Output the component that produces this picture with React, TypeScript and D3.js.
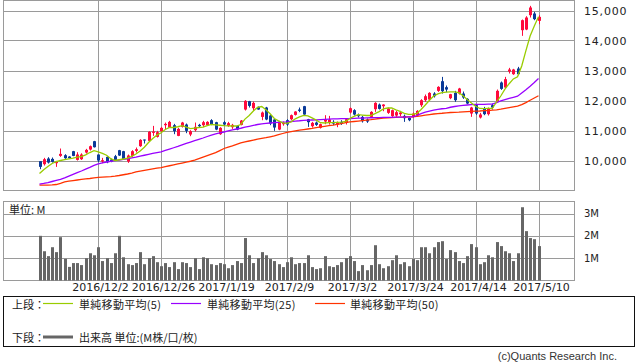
import React, { useRef, useEffect } from "react";
import * as d3 from "d3";

// daily candles, 2016/11/14 .. 2017/5/10 (120 sessions)
const opens = [
  9977, 9877, 10066, 10054, 9910, 10154, 10176, 10132, 10310, 10021,
  10043, 10265, 10365, 10643, 10199, 9968, 10121, 10032, 10143, 10343,
  10310, 9966, 10154, 10321, 10477, 10699, 10654, 10921, 10788, 10977,
  11177, 11099, 11177, 10821, 11121, 11199, 10866, 11010, 11188, 11177,
  11177, 11343, 11276, 10877, 11276, 11154, 11110, 11154, 11188, 11699,
  11977, 11743, 11788, 11454, 11766, 11499, 11366, 11032, 11210, 11343,
  11376, 11521, 11699, 11810, 11377, 11143, 11265, 11088, 11299, 11254,
  11288, 11199, 11288, 11254, 11599, 11677, 11521, 11454, 11366, 11454,
  11710, 11865, 11810, 11588, 11477, 11499, 11543, 11488, 11421, 11454,
  11499, 11843, 12010, 12032, 12232, 12321, 12643, 12443, 12077, 12254,
  12232, 12232, 12055, 11566, 11844, 11433, 11733, 11544, 11844, 11955,
  12600, 12433, 12966, 12877, 13066, 14344, 14366, 14844, 14900, 14655,
];
const highs = [
  9977, 10088, 10110, 10100, 9988, 10399, 10210, 10143, 10320, 10277,
  10240, 10388, 10499, 10654, 10199, 10088, 10132, 10054, 10187, 10354,
  10321, 10199, 10343, 10432, 10710, 10699, 10977, 11154, 10988, 11121,
  11265, 11321, 11221, 11088, 11288, 11232, 11010, 11265, 11221, 11321,
  11310, 11377, 11290, 11110, 11321, 11288, 11221, 11170, 11350, 12010,
  11988, 11966, 11800, 11632, 11788, 11532, 11377, 11321, 11299, 11377,
  11532, 11643, 11766, 11821, 11388, 11288, 11299, 11232, 11510, 11487,
  11343, 11299, 11343, 11399, 11765, 11710, 11565, 11488, 11399, 11643,
  11943, 11899, 11876, 11765, 11699, 11654, 11654, 11532, 11432, 11599,
  11677, 12043, 12199, 12277, 12277, 12476, 12787, 12499, 12221, 12321,
  12421, 12299, 12077, 11788, 11877, 11588, 11788, 11766, 11899, 12366,
  12633, 12788, 13088, 13055, 13121, 14699, 14810, 15155, 14955, 14844,
];
const lows = [
  9710, 9832, 9899, 9930, 9788, 10121, 10054, 10066, 10143, 9999,
  10020, 10232, 10332, 10432, 9943, 9910, 9910, 9943, 9988, 10154,
  10043, 9921, 10121, 10266, 10455, 10566, 10643, 10821, 10766, 10955,
  11043, 11088, 10877, 10810, 11099, 10910, 10810, 10966, 11099, 11110,
  11160, 11177, 11010, 10855, 11154, 11121, 11054, 11010, 11170, 11666,
  11766, 11654, 11690, 11343, 11343, 11177, 10988, 11010, 11160, 11154,
  11343, 11499, 11610, 11521, 11121, 11099, 11154, 11066, 11210, 11199,
  11177, 11110, 11188, 11199, 11565, 11499, 11432, 11265, 11254, 11421,
  11621, 11699, 11643, 11554, 11454, 11454, 11477, 11288, 11310, 11421,
  11477, 11787, 11954, 12010, 12099, 12288, 12232, 12277, 12043, 11954,
  12199, 12055, 11877, 11455, 11521, 11400, 11510, 11499, 11699, 11921,
  12355, 12410, 12900, 12855, 12844, 14155, 14344, 14766, 14677, 14544,
];
const closes = [
  9788, 10043, 9932, 9954, 9954, 10221, 10077, 10077, 10154, 10199,
  10199, 10354, 10476, 10443, 9999, 10010, 9943, 9966, 10021, 10166,
  10054, 10166, 10310, 10376, 10688, 10666, 10955, 10966, 10943, 11088,
  11221, 11287, 10977, 11054, 11265, 10988, 10977, 11121, 11143, 11276,
  11287, 11210, 11032, 11088, 11199, 11243, 11188, 11032, 11332, 11988,
  11821, 11921, 11700, 11599, 11366, 11232, 11099, 11299, 11254, 11199,
  11510, 11632, 11654, 11532, 11277, 11254, 11188, 11210, 11366, 11366,
  11232, 11254, 11221, 11377, 11743, 11532, 11477, 11310, 11299, 11621,
  11921, 11721, 11865, 11732, 11677, 11610, 11599, 11410, 11343, 11565,
  11654, 12010, 12143, 12254, 12143, 12454, 12310, 12365, 12210, 12010,
  12399, 12099, 11899, 11766, 11566, 11533, 11544, 11733, 11766, 12322,
  12388, 12711, 13033, 13033, 12877, 14677, 14766, 15100, 14711, 14788,
];
// volume, millions
const volumes = [
  2.0, 1.31, 1.09, 1.49, 1.27, 1.94, 0.97, 0.61, 0.78, 0.78,
  0.69, 1.0, 1.22, 1.13, 1.49, 0.87, 1.0, 0.78, 1.22, 2.0,
  1.04, 0.73, 0.69, 0.78, 1.27, 0.73, 1.0, 1.09, 0.82, 0.64,
  0.78, 0.6, 0.82, 0.51, 0.82, 0.78, 0.6, 1.0, 0.51, 1.04,
  1.0, 0.73, 0.69, 0.78, 0.73, 0.55, 0.69, 0.87, 0.78, 1.9,
  1.13, 0.78, 1.0, 1.27, 1.13, 0.96, 0.87, 0.73, 0.6, 0.82,
  1.04, 0.73, 0.78, 0.78, 1.13, 0.6, 0.51, 0.55, 1.09, 0.64,
  0.6, 0.69, 0.82, 1.0, 1.09, 0.87, 0.42, 0.69, 0.46, 0.69,
  1.58, 0.73, 0.55, 0.64, 0.91, 1.13, 0.73, 0.82, 0.64, 0.96,
  0.91, 1.49, 1.49, 1.22, 1.49, 1.72, 1.76, 0.96, 1.36, 1.27,
  0.87, 0.78, 1.09, 1.63, 1.49, 0.73, 0.82, 1.13, 1.04, 1.72,
  1.54, 1.31, 1.22, 0.87, 1.22, 3.28, 2.21, 1.9, 1.85, 1.54,
];
const ma5 = [
  9566, 9690, 9800, 9900, 9960, 10000, 10030, 10055, 10080, 10110,
  10130, 10190, 10265, 10330, 10290, 10240, 10175, 10060, 10000, 10025,
  10050, 10080, 10140, 10215, 10320, 10440, 10600, 10730, 10845, 10925,
  11035, 11100, 11100, 11125, 11160, 11110, 11060, 11080, 11100, 11110,
  11160, 11200, 11190, 11175, 11160, 11155, 11150, 11150, 11200, 11380,
  11500, 11650, 11770, 11800, 11690, 11560, 11400, 11320, 11255, 11240,
  11290, 11390, 11455, 11505, 11490, 11420, 11345, 11260, 11250, 11260,
  11260, 11270, 11280, 11300, 11400, 11470, 11530, 11515, 11500, 11500,
  11560, 11630, 11720, 11750, 11750, 11690, 11640, 11570, 11535, 11540,
  11570, 11700, 11850, 12010, 12150, 12220, 12260, 12280, 12290, 12285,
  12260, 12160, 12030, 11920, 11810, 11735, 11730, 11740, 11740, 11950,
  12150, 12380, 12560, 12720, 12790, 13150, 13660, 14150, 14480, 14790,
];
const ma25 = [
  9210, 9235, 9265, 9300, 9335, 9370, 9420, 9480, 9540, 9595,
  9650, 9710, 9770, 9840, 9890, 9920, 9950, 9975, 9995, 10015,
  10035, 10055, 10085, 10110, 10145, 10175, 10205, 10235, 10265, 10290,
  10335, 10380, 10425, 10470, 10520, 10570, 10615, 10660, 10705, 10750,
  10800, 10845, 10885, 10920, 10950, 10985, 11020, 11050, 11075, 11110,
  11140, 11170, 11200, 11220, 11235, 11250, 11260, 11270, 11280, 11288,
  11300, 11315, 11325, 11340, 11345, 11350, 11355, 11362, 11370, 11378,
  11385, 11390, 11395, 11399, 11400, 11405, 11410, 11415, 11420, 11425,
  11430, 11432, 11435, 11438, 11440, 11443, 11446, 11449, 11452, 11455,
  11500, 11560, 11610, 11645, 11680, 11705, 11725, 11740, 11775, 11800,
  11820, 11835, 11850, 11865, 11870, 11872, 11874, 11876, 11878, 11930,
  11988, 12030, 12070, 12105, 12143, 12250, 12360, 12477, 12600, 12732,
];
const ma50 = [
  9177, 9178, 9180, 9185, 9200, 9240, 9290, 9310, 9330, 9350,
  9370, 9385, 9400, 9420, 9435, 9445, 9455, 9465, 9480, 9500,
  9525, 9550, 9580, 9620, 9645, 9670, 9695, 9720, 9745, 9766,
  9795, 9825, 9855, 9885, 9915, 9945, 9975, 10010, 10060, 10110,
  10160, 10210, 10260, 10330, 10400, 10445, 10490, 10540, 10588, 10621,
  10650, 10680, 10710, 10735, 10760, 10790, 10820, 10860, 10900, 10940,
  10965, 10990, 11010, 11030, 11050, 11070, 11095, 11120, 11140, 11160,
  11180, 11205, 11230, 11260, 11288, 11300, 11315, 11330, 11345, 11360,
  11380, 11400, 11410, 11420, 11430, 11437, 11443, 11448, 11452, 11456,
  11470, 11490, 11510, 11530, 11550, 11565, 11575, 11590, 11600, 11605,
  11610, 11620, 11630, 11640, 11645, 11650, 11660, 11665, 11677, 11690,
  11710, 11735, 11760, 11785, 11810, 11860, 11930, 12010, 12085, 12160,
];

const dateLabels = ["2016/12/2", "2016/12/26", "2017/1/19", "2017/2/9", "2017/3/2", "2017/3/24", "2017/4/14", "2017/5/10"];
const dateIndex = [14, 29, 44, 59, 74, 89, 104, 119];
const priceTicks = [10000, 11000, 12000, 13000, 14000, 15000];
const volumeTicks = [1, 2, 3];

const W = 638;
const H = 362;
const UP = "#ff0a3c";
const DOWN = "#0a3a98";
const GRID = "#9a9a9a";
const NUM_FONT = "'DejaVu Sans', 'Noto Sans CJK JP', sans-serif";
const JP_FONT = "'Noto Sans CJK JP', 'DejaVu Sans', sans-serif";

const App = () => {
  const svgRef = useRef<SVGSVGElement>(null);

  useEffect(() => {
    const svg = d3.select(svgRef.current);
    svg.selectAll("*").remove();

    const left = 3.5, right = 574.5;
    const top = 0.5, bottom = 190.5;
    const vTop = 201.5, vBottom = 280.5;

    const x = d3.scaleLinear().domain([0, closes.length - 1]).range([39.5, 538.5]);
    const y = d3.scaleLinear().domain([10000, 15000]).range([160.5, 10.5]);
    const yv = d3.scaleLinear().domain([0, 3]).range([280.5, 213.5]);
    const px = (i: number) => Math.round(x(i));

    svg.append("rect").attr("width", W).attr("height", H).attr("fill", "#fff");

    // panes grid
    const grid = svg.append("g").attr("stroke", GRID).attr("stroke-width", 1).attr("fill", "none");
    grid.selectAll("line.h")
      .data(priceTicks)
      .join("line")
      .attr("x1", left).attr("x2", right)
      .attr("y1", d => Math.round(y(d)) + 0.5)
      .attr("y2", d => Math.round(y(d)) + 0.5);
    grid.append("g").selectAll("line")
      .data(volumeTicks)
      .join("line")
      .attr("x1", left).attr("x2", right)
      .attr("y1", d => Math.round(yv(d)) + 0.5)
      .attr("y2", d => Math.round(yv(d)) + 0.5);
    grid.append("g").selectAll("line")
      .data(dateIndex)
      .join("line")
      .attr("x1", d => px(d) + 0.5).attr("x2", d => px(d) + 0.5)
      .attr("y1", top).attr("y2", bottom);
    grid.append("g").selectAll("line")
      .data(dateIndex)
      .join("line")
      .attr("x1", d => px(d) + 0.5).attr("x2", d => px(d) + 0.5)
      .attr("y1", vTop).attr("y2", vBottom);
    grid.append("rect").attr("x", left).attr("y", top).attr("width", right - left).attr("height", bottom - top);
    grid.append("rect").attr("x", left).attr("y", vTop).attr("width", right - left).attr("height", vBottom - vTop);

    // candles
    const idx = d3.range(closes.length);
    const candles = svg.append("g");
    candles.selectAll("line")
      .data(idx)
      .join("line")
      .attr("x1", i => px(i) + 0.5).attr("x2", i => px(i) + 0.5)
      .attr("y1", i => y(highs[i])).attr("y2", i => y(lows[i]))
      .attr("stroke", i => closes[i] >= opens[i] ? UP : DOWN)
      .attr("stroke-width", 1);
    candles.selectAll("rect")
      .data(idx)
      .join("rect")
      .attr("x", i => px(i) - 1)
      .attr("width", 3)
      .attr("y", i => y(Math.max(opens[i], closes[i])))
      .attr("height", i => Math.max(1, Math.abs(y(opens[i]) - y(closes[i]))))
      .attr("fill", i => closes[i] >= opens[i] ? UP : DOWN);

    // moving averages
    const line = d3.line<number>().x((d, i) => x(i)).y(d => y(d));
    [[ma50, "#ff3300"], [ma25, "#9900ff"], [ma5, "#99cc00"]].forEach(([vals, color]) => {
      svg.append("path")
        .attr("d", line(vals as number[]))
        .attr("fill", "none")
        .attr("stroke", color as string)
        .attr("stroke-width", 1.3);
    });

    // volume
    svg.append("g").selectAll("rect")
      .data(idx)
      .join("rect")
      .attr("x", i => px(i) - 1)
      .attr("width", 3)
      .attr("y", i => yv(volumes[i]))
      .attr("height", i => yv(0) - yv(volumes[i]))
      .attr("fill", "#666");

    // axis labels
    svg.append("g").selectAll("text")
      .data(priceTicks)
      .join("text")
      .attr("x", 584).attr("y", d => y(d) + 0.5)
      .attr("dominant-baseline", "central")
      .attr("font-family", NUM_FONT).attr("font-size", 11)
      .attr("letter-spacing", 0.8)
      .attr("fill", "#222")
      .text(d => d3.format(",")(d));
    svg.append("g").selectAll("text")
      .data(volumeTicks)
      .join("text")
      .attr("x", 584).attr("y", d => yv(d))
      .attr("dominant-baseline", "central")
      .attr("font-family", NUM_FONT).attr("font-size", 10)
      .attr("fill", "#222")
      .text(d => `${d}M`);
    svg.append("g").selectAll("text")
      .data(dateIndex)
      .join("text")
      .attr("x", (d, i) => px(d) + 2.5).attr("y", 287)
      .attr("text-anchor", "middle")
      .attr("dominant-baseline", "central")
      .attr("font-family", NUM_FONT).attr("font-size", 11)
      .attr("fill", "#222")
      .text((d, i) => dateLabels[i]);
    svg.append("text")
      .attr("x", 9).attr("y", 209)
      .attr("dominant-baseline", "central")
      .attr("font-family", JP_FONT).attr("font-size", 11)
      .attr("fill", "#222")
      .text("単位: M");

    // legend
    const lg = svg.append("g").attr("font-family", JP_FONT).attr("font-size", 11).attr("fill", "#222");
    lg.append("rect").attr("x", 3.5).attr("y", 296.5).attr("width", 631).attr("height", 50)
      .attr("fill", "none").attr("stroke", "#111").attr("stroke-width", 1);
    const row1 = 303.5, row2 = 337;
    lg.append("text").attr("x", 12).attr("y", row1).attr("dominant-baseline", "central").text("上段：");
    lg.append("text").attr("x", 12).attr("y", row2).attr("dominant-baseline", "central").text("下段：");
    const items: [number, number, string, string][] = [
      [43, 79, "#99cc00", "単純移動平均(5)"],
      [171, 207, "#9900ff", "単純移動平均(25)"],
      [315, 350, "#ff3300", "単純移動平均(50)"],
    ];
    items.forEach(([lx, tx, color, label]) => {
      lg.append("line").attr("x1", lx).attr("x2", lx + 30).attr("y1", row1).attr("y2", row1)
        .attr("stroke", color).attr("stroke-width", 1.2);
      lg.append("text").attr("x", tx).attr("y", row1).attr("dominant-baseline", "central")
        .attr("letter-spacing", 0.3).text(label);
    });
    lg.append("line").attr("x1", 43).attr("x2", 73).attr("y1", row2).attr("y2", row2)
      .attr("stroke", "#666").attr("stroke-width", 3);
    lg.append("text").attr("x", 79).attr("y", row2).attr("dominant-baseline", "central").text("出来高 単位:(M株/口/枚)");

    svg.append("text")
      .attr("x", 617).attr("y", 355.5)
      .attr("text-anchor", "end")
      .attr("dominant-baseline", "central")
      .attr("font-family", "'Liberation Sans', Arial, sans-serif").attr("font-size", 11)
      .attr("fill", "#333")
      .text("(c)Quants Research Inc.");
  }, []);

  return (
    <div style={{ position: "absolute", left: 0, top: 0 }}>
      <svg ref={svgRef} width={W} height={H} style={{ display: "block" }} />
    </div>
  );
};

export default App;
